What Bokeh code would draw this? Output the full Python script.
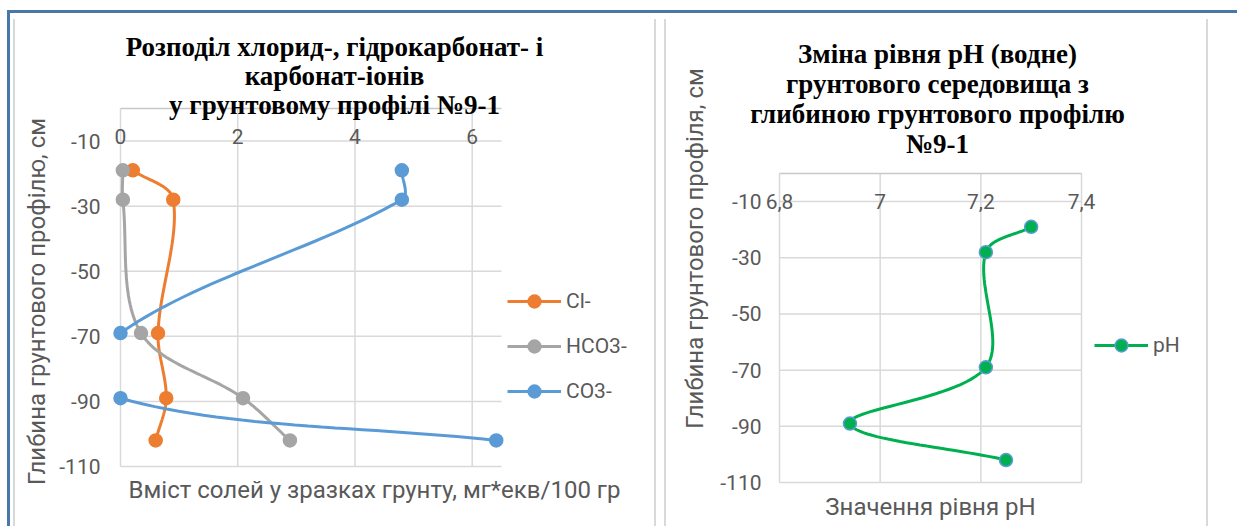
import numpy as np
from bokeh.plotting import figure
from bokeh.layouts import row
from bokeh.models import FixedTicker, Label, Legend, LegendItem, LinearAxis, Range1d
from bokeh.embed import file_html
from bokeh.resources import INLINE

# ---- data -------------------------------------------------------------
depth = [-19, -28, -69, -89, -102]          # sampling depth, cm
cl = [0.21, 0.90, 0.64, 0.78, 0.60]         # Cl-, mg*eq/100 g
hco3 = [0.04, 0.04, 0.35, 2.09, 2.89]       # HCO3-
co3 = [4.80, 4.80, 0.0, 0.0, 6.41]          # CO3-
ph = [7.30, 7.21, 7.21, 6.94, 7.25]         # pH (water)

salt_ticks = [0, 2, 4, 6]
depth_ticks = [-110, -90, -70, -50, -30, -10]
depth_labels = {t: str(t) for t in depth_ticks}
ph_ticks = [6.8, 7.0, 7.2, 7.4]
ph_tick_labels = {6.8: "6,8", 7.0: "7", 7.2: "7,2", 7.4: "7,4"}

salt_names = ["Cl-", "HCO3-", "CO3-"]
salt_colors = ["#ED7D31", "#A5A5A5", "#5B9BD5"]

left_title = ["Розподіл хлорид-, гідрокарбонат- і", "карбонат-іонів",
              "у грунтовому профілі №9-1"]
right_title = ["Зміна рівня pH (водне)", "грунтового середовища з",
               "глибиною грунтового профілю", "№9-1"]

# ---- styling ----------------------------------------------------------
GRID = "#d9d9d9"
AXIS = "#c8c8c8"
TXT = "#595959"
SANS = "Roboto"
SERIF = "Liberation Serif"
TITLE_SIZE = "27px"
AXIS_TITLE_SIZE = "24px"
TICK_SIZE = "21px"


def smooth(xs, ys, kx, ky, steps=30):
    """Chord-length Bezier smoothing, computed in screen pixels."""
    P = np.column_stack([np.asarray(xs, float) * kx, np.asarray(ys, float) * ky])
    n = len(P)
    d = np.linalg.norm(np.diff(P, axis=0), axis=1)
    T = np.zeros_like(P)
    for i in range(n):
        prev = P[i - 1] if i > 0 else P[i]
        nxt = P[i + 1] if i < n - 1 else P[i]
        dl = d[i - 1] if i > 0 else 0.0
        dr = d[i] if i < n - 1 else 0.0
        s = dl + dr
        T[i] = (nxt - prev) / s if s > 0 else 0.0
    t = np.linspace(0, 1, steps)[:, None]
    out = []
    for i in range(n - 1):
        p0, p3 = P[i], P[i + 1]
        c1 = p0 + T[i] * d[i] / 3
        c2 = p3 - T[i + 1] * d[i] / 3
        seg = ((1 - t) ** 3) * p0 + 3 * ((1 - t) ** 2) * t * c1 \
            + 3 * (1 - t) * t ** 2 * c2 + t ** 3 * p3
        out.append(seg if i == 0 else seg[1:])
    out = np.vstack(out)
    return out[:, 0] / kx, out[:, 1] / ky


def clip_x(xs, ys, lo, hi):
    """Cut a polyline at the plotting box's side edges (gaps become NaN)."""
    ox, oy = [], []

    def inside(v):
        return lo <= v <= hi

    for i, (x, y) in enumerate(zip(xs, ys)):
        if i > 0:
            px, py = xs[i - 1], ys[i - 1]
            if inside(px) != inside(x):
                bound = lo if min(px, x) < lo else hi
                t = (bound - px) / (x - px)
                ox.append(bound)
                oy.append(py + t * (y - py))
                if inside(px):
                    ox.append(np.nan)
                    oy.append(np.nan)
        if inside(x):
            ox.append(x)
            oy.append(y)
    return ox, oy


class Chart:
    """A figure whose plotting box sits at a fixed pixel position on the canvas."""

    def __init__(self, W, H, xlim, ylim, box, xticks, yticks):
        left, right, top, bottom = box
        self.x0, self.x1 = xlim
        self.y0, self.y1 = ylim
        self.kx = (W - left - right) / (self.x1 - self.x0)
        self.ky = (H - top - bottom) / (self.y1 - self.y0)
        p = figure(width=W, height=H,
                   x_range=Range1d(self.x0 - left / self.kx, self.x1 + right / self.kx),
                   y_range=Range1d(self.y0 - bottom / self.ky, self.y1 + top / self.ky),
                   x_axis_location=None, y_axis_location=None,
                   toolbar_location=None, output_backend="svg", min_border=0)
        p.grid.visible = False
        p.outline_line_color = None
        p.border_fill_color = None
        p.background_fill_color = None
        self.p = p

        # grid lines limited to the plotting box
        p.segment(x0=xticks, y0=[self.y0] * len(xticks), x1=xticks,
                  y1=[self.y1] * len(xticks), line_color=GRID, line_width=1.5,
                  level="underlay")
        p.segment(x0=[self.x0] * len(yticks), y0=yticks, x1=[self.x1] * len(yticks),
                  y1=yticks, line_color=GRID, line_width=1.5, level="underlay")

        # horizontal axis crosses at depth 0 (top edge), labels just under it
        xa = LinearAxis(ticker=FixedTicker(ticks=xticks), fixed_location=self.y1,
                        bounds=(self.x0, self.x1), axis_line_color=AXIS,
                        axis_line_width=1.5, major_label_standoff=20)
        ya = LinearAxis(ticker=FixedTicker(ticks=yticks), fixed_location=self.x0,
                        bounds=(self.y0, self.y1), axis_line_color=None,
                        major_label_overrides=depth_labels, major_label_standoff=20)
        for ax in (xa, ya):
            ax.major_tick_line_color = None
            ax.minor_tick_line_color = None
            ax.major_tick_out = 0
            ax.major_tick_in = 0
            ax.major_label_text_font = SANS
            ax.major_label_text_font_size = TICK_SIZE
            ax.major_label_text_color = TXT
        p.add_layout(xa, "below")
        p.add_layout(ya, "left")
        self.xaxis, self.yaxis = xa, ya

    def at(self, sx, sy):
        # pixel offset from the plotting box's top-left corner -> data coords
        return self.x0 + sx / self.kx, self.y1 - sy / self.ky

    def series(self, xs, ys, color, outline=None):
        sx, sy = smooth(xs, ys, self.kx, self.ky)
        sx, sy = clip_x(sx, sy, self.x0, self.x1)
        ln = self.p.line(sx, sy, line_color=color, line_width=3)
        sc = self.p.scatter(xs, ys, size=13, fill_color=color,
                            line_color=outline or color, line_width=1.5)
        return [ln, sc]

    def text(self, sx, sy, txt, size=AXIS_TITLE_SIZE, font=SANS, color=TXT,
             bold=False, angle=0.0):
        x, y = self.at(sx, sy)
        self.p.add_layout(Label(x=x, y=y, text=txt, text_font=font, text_font_size=size,
                                text_color=color, text_align="center",
                                text_baseline="middle", angle=angle,
                                text_font_style="bold" if bold else "normal"))


def legend(items, loc):
    return Legend(items=items, location=loc, orientation="vertical",
                  glyph_width=54, glyph_height=32, label_height=32, label_standoff=5,
                  spacing=13, padding=0, margin=0, border_line_color=None,
                  background_fill_alpha=0, label_text_font=SANS,
                  label_text_font_size=TICK_SIZE, label_text_color=TXT)


# ---- left chart: salts ------------------------------------------------
c1 = Chart(644, 513, (0, 6.5), (-110, 0), (110, 153, 95, 60), salt_ticks, depth_ticks)
items = [LegendItem(label=name, renderers=c1.series(vals, depth, col))
         for name, vals, col in zip(salt_names, [cl, hco3, co3], salt_colors)]
c1.p.add_layout(legend(items, (497, 119)))

for i, line in enumerate(left_title):
    c1.text(214, -62 + 29 * i, line, size=TITLE_SIZE, font=SERIF, color="black", bold=True)
c1.text(254, 381, "Вміст солей у зразках грунту, мг*екв/100 гр")
c1.text(-84, 193, "Глибина грунтового профілю, см", angle=np.pi / 2)

# ---- right chart: pH --------------------------------------------------
c2 = Chart(583, 513, (6.8, 7.4), (-110, 0), (125, 156, 160, 44), ph_ticks, depth_ticks)
c2.xaxis.major_label_overrides = ph_tick_labels
c2.yaxis.major_label_standoff = 18
ph_marks = c2.series(ph, depth, "#00B050", outline="#5B9BD5")
c2.p.add_layout(legend([LegendItem(label="pH", renderers=ph_marks)], (440, 165)))

for i, line in enumerate(right_title):
    c2.text(158, -120 + 30 * i, line, size=TITLE_SIZE, font=SERIF, color="black", bold=True)
c2.text(151, 333, "Значення рівня pH")
c2.text(-85, 75, "Глибина грунтового профіля, см", angle=np.pi / 2)

# ---- page frame -------------------------------------------------------
bar = "linear-gradient(#d9d9d9,#d9d9d9)"
frame_bg = ", ".join(f"{bar} {x}px 6px / 2px 100% no-repeat" for x in (3, 644, 654, 1196))
layout = row(c1.p, c2.p, margin=(10, 0, 0, 7),
             styles={"border-top": "3px solid #4a77aa",
                     "border-left": "3px solid #4a77aa",
                     "background": frame_bg})

open("out.html", "w").write(file_html(layout, INLINE))
